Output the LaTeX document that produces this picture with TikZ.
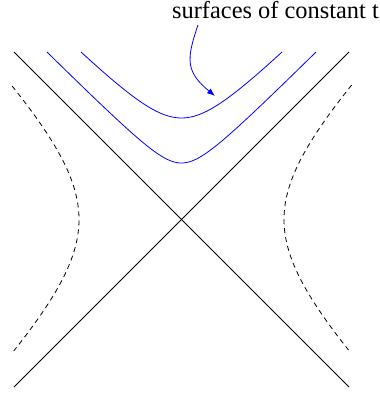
\documentclass[tikz,border=0pt]{standalone}
\usepackage{fontspec}
\setmainfont{Liberation Serif}
\usepackage{tikz}
\usetikzlibrary{arrows.meta, calc}
\definecolor{sliceBlue}{RGB}{0, 0, 255}
\tikzset{
  horizon/.style={
    line width=0.8pt, color=black
  },
  slice/.style={
    line width=0.8pt, color=sliceBlue, smooth, samples=60
  },
  orbit/.style={
    line width=0.8pt, color=black, dash pattern=on 5pt off 4pt,
    smooth, samples=60, variable=\t
  },
  pointer/.style={
    -{Latex[length=8pt,width=6pt]}, line width=0.8pt, color=sliceBlue
  }
}

\begin{document}
\begin{tikzpicture}[x=10pt, y=-10pt]

  \useasboundingbox (0,0) rectangle (38,39.4);

  \coordinate (o) at (18.15,21.95);

  % light cone through the origin
  \coordinate (nw) at (1.4,5.2);
  \coordinate (ne) at (34.9,5.2);
  \coordinate (sw) at (1.4,38.7);
  \coordinate (se) at (34.9,38.7);
  \draw[horizon] (nw) -- (se);
  \draw[horizon] (sw) -- (ne);

  % surfaces of constant t
  \draw[slice, domain=-13.45:13.45]
    plot ({18.15+\x},{21.95-(3.05+sqrt(2.6*2.6+\x*\x))});
  \draw[slice, domain=-10.05:10.05]
    plot ({18.15+\x},{21.95-(5.8+sqrt(4.35*4.35+\x*\x))});

  % accelerated observers
  \draw[orbit, domain=-13.35:13.15]
    plot ({18.15-(0.275+sqrt(9.975*9.975+\t*\t))},{21.95+\t});
  \draw[orbit, domain=-13.45:13.05]
    plot ({18.15+(0.275+sqrt(9.975*9.975+\t*\t))},{21.95+\t});

  \node[anchor=base east, inner sep=0pt, font=\fontsize{24.4}{29}\selectfont]
    (label) at (37.9,1.8) {surfaces of constant t};

  \coordinate (tail) at (19.8,2.5);
  \coordinate (tip)  at (21.5,9.6);
  \draw[pointer] (tail) .. controls (18.6,6.0) and (18.6,7.2) .. (tip);

\end{tikzpicture}
\end{document}
